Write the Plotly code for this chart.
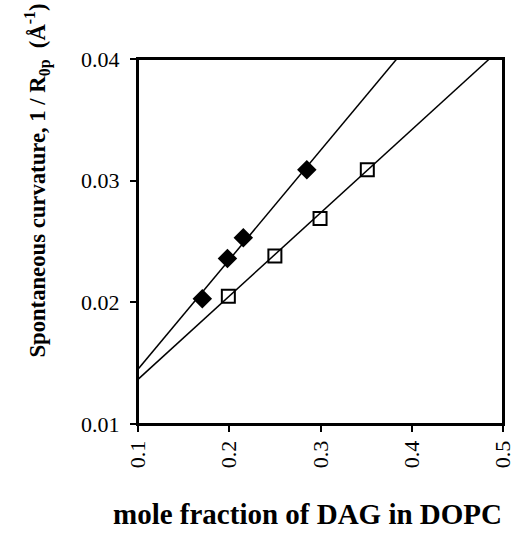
import plotly.graph_objects as go

# Filled diamonds series
filled_x = [0.1705, 0.198, 0.2154, 0.285]
filled_y = [0.0203, 0.0236, 0.0253, 0.0309]
filled_fit_x = [0.1, 0.3835]
filled_fit_y = [0.0145, 0.04]

# Open squares series
open_x = [0.199, 0.250, 0.2995, 0.3513]
open_y = [0.0205, 0.0238, 0.0269, 0.0309]
open_fit_x = [0.1, 0.485]
open_fit_y = [0.01367, 0.04]

x_ticks = [0.1, 0.2, 0.3, 0.4, 0.5]
y_ticks = [0.01, 0.02, 0.03, 0.04]

font_family = "Liberation Serif"

fig = go.Figure()
fig.add_trace(go.Scatter(x=filled_fit_x, y=filled_fit_y, mode="lines",
                         line=dict(color="black", width=1.5), showlegend=False))
fig.add_trace(go.Scatter(x=open_fit_x, y=open_fit_y, mode="lines",
                         line=dict(color="black", width=1.5), showlegend=False))
fig.add_trace(go.Scatter(x=filled_x, y=filled_y, mode="markers",
                         marker=dict(symbol="diamond", size=15, color="black",
                                     line=dict(color="black", width=0)),
                         showlegend=False))
fig.add_trace(go.Scatter(x=open_x, y=open_y, mode="markers",
                         marker=dict(symbol="square-open", size=13, color="black",
                                     line=dict(color="black", width=2)),
                         showlegend=False))

fig.update_layout(
    width=512, height=542,
    margin=dict(l=138, r=9, t=59, b=118),
    paper_bgcolor="white", plot_bgcolor="white",
    font=dict(family=font_family, color="black", size=22),
    xaxis=dict(range=[0.1, 0.5], tickvals=x_ticks, automargin=False,
               ticktext=[f"{v:.1f}" for v in x_ticks], tickangle=-90,
               ticklabeloverflow="allow",
               showgrid=False, zeroline=False, showline=True, mirror=True,
               linecolor="black", linewidth=2, ticks="outside", ticklen=6,
               tickwidth=2, tickcolor="black",
               tickfont=dict(family=font_family, size=22)),
    yaxis=dict(range=[0.01, 0.04], tickvals=y_ticks, automargin=False,
               ticktext=[f"{v:.2f}" for v in y_ticks],
               ticklabeloverflow="allow", ticklabelstandoff=6,
               showgrid=False, zeroline=False, showline=True, mirror=True,
               linecolor="black", linewidth=2, ticks="outside", ticklen=6,
               tickwidth=2, tickcolor="black",
               tickfont=dict(family=font_family, size=22)),
    shapes=[dict(type="rect", xref="paper", yref="paper", x0=0, x1=1, y0=0, y1=1,
                 line=dict(color="black", width=2), layer="above")],
    annotations=[
        dict(text="<b>mole fraction of DAG in DOPC</b>", xref="paper", yref="paper",
             x=0.5, y=0, xshift=-13, yshift=-108, xanchor="center", yanchor="bottom",
             showarrow=False, font=dict(family=font_family, size=29)),
        dict(text="<b>Spontaneous curvature, 1 / R<sub>0p</sub>  (Å<sup>-1</sup>)</b>",
             xref="paper", yref="paper", x=0, xshift=-101, y=1.16, yanchor="middle",
             xanchor="center",
             textangle=-90, yshift=-180, showarrow=False,
             font=dict(family=font_family, size=22.7)),
    ],
)

# remove the page's default 8px body margin so the figure fills the window exactly
fig.write_html(
    "out.html",
    config={"displayModeBar": False},
    post_script="document.body.style.margin='0';document.body.style.overflow='hidden';",
)
